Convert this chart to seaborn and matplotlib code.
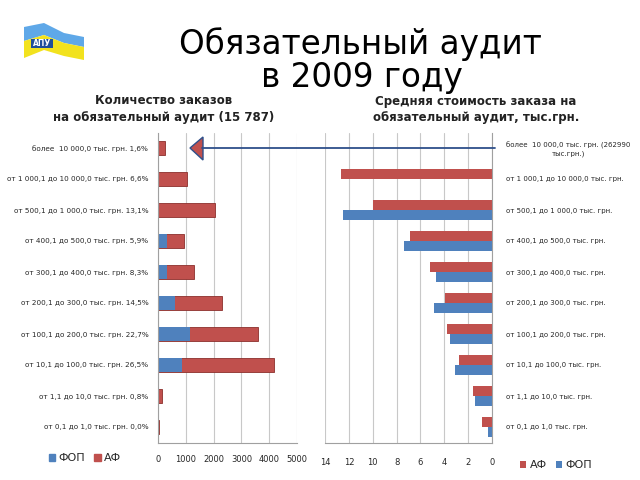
import matplotlib
matplotlib.use("Agg")
import matplotlib.pyplot as plt
import seaborn as sns
import pandas as pd
from matplotlib.patches import Patch, Polygon, Rectangle
from matplotlib.lines import Line2D

# ---- data ----
ranges = [
    "более  10 000,0 тыс. грн.",
    "от 1 000,1 до 10 000,0 тыс. грн.",
    "от 500,1 до 1 000,0 тыс. грн.",
    "от 400,1 до 500,0 тыс. грн.",
    "от 300,1 до 400,0 тыс. грн.",
    "от 200,1 до 300,0 тыс. грн.",
    "от 100,1 до 200,0 тыс. грн.",
    "от 10,1 до 100,0 тыс. грн.",
    "от 1,1 до 10,0 тыс. грн.",
    "от 0,1 до 1,0 тыс. грн.",
]
shares = ["1,6%", "6,6%", "13,1%", "5,9%", "8,3%", "14,5%", "22,7%", "26,5%", "0,8%", "0,0%"]
count_fop = [0, 0, 0, 330, 330, 600, 1150, 870, 0, 0]
count_af = [253, 1042, 2068, 600, 980, 1690, 2430, 3310, 126, 30]
cost_af = [0, 12.7, 10.0, 6.9, 5.2, 3.9, 3.8, 2.8, 1.6, 0.8]
cost_fop = [0, 0, 12.5, 7.4, 4.7, 4.9, 3.5, 3.1, 1.4, 0.3]
right_labels = ["более  10 000,0 тыс. грн. (262990\nтыс.грн.)"] + ranges[1:]

RED = "#C0504D"
BLUE = "#4F81BD"
GRID = "#C8C8C8"

sns.set_theme(style="white")
plt.rcParams["font.family"] = ["DejaVu Sans"]

fig = plt.figure(figsize=(6.4, 4.8), dpi=100)
W, H = 640, 480


def fx(x):
    return x / W


def fy(y):
    return 1 - y / H


# ---- left chart: number of orders (stacked) ----
left_labels = [f"{r} {s}" for r, s in zip(ranges, shares)]
df_left = pd.DataFrame({
    "label": left_labels,
    "fop": count_fop,
    "total": [a + b for a, b in zip(count_fop, count_af)],
})

ax1 = fig.add_axes([fx(158), fy(442.5), fx(297 - 158), 310 / H])
sns.barplot(data=df_left, y="label", x="total", color=RED, orient="h",
            width=0.45, ax=ax1, saturation=1, edgecolor="#8C2F2C", linewidth=0.6)
sns.barplot(data=df_left, y="label", x="fop", color=BLUE, orient="h",
            width=0.45, ax=ax1, saturation=1, linewidth=0)
ax1.set_xlim(0, 5000)
ax1.set_xticks([0, 1000, 2000, 3000, 4000, 5000])
ax1.xaxis.grid(True, color=GRID, lw=0.8)
ax1.set_axisbelow(True)
ax1.set_xlabel("")
ax1.set_ylabel("")
ax1.tick_params(axis="y", length=0, pad=7, labelsize=5.2)
ax1.tick_params(axis="x", length=0, pad=9, labelsize=6)
for s in ["top", "right"]:
    ax1.spines[s].set_visible(False)
for s in ["left", "bottom"]:
    ax1.spines[s].set_color("#A0A0A0")
    ax1.spines[s].set_linewidth(0.8)

ax1.legend(handles=[Patch(color=BLUE, label="ФОП"), Patch(color=RED, label="АФ")],
           loc="center", bbox_to_anchor=(fx(85), fy(458)), bbox_transform=fig.transFigure,
           ncol=2, frameon=False, fontsize=8, handlelength=0.6, handleheight=0.6,
           handletextpad=0.3, columnspacing=0.8)

# ---- right chart: average cost (grouped) ----
df_right = pd.DataFrame({
    "label": right_labels * 2,
    "series": ["АФ"] * len(ranges) + ["ФОП"] * len(ranges),
    "value": cost_af + cost_fop,
})

ax2 = fig.add_axes([fx(325), fy(442.5), fx(492 - 325), 310 / H])
sns.barplot(data=df_right, y="label", x="value", hue="series", hue_order=["АФ", "ФОП"],
            palette={"АФ": RED, "ФОП": BLUE}, order=right_labels, orient="h",
            width=0.65, ax=ax2, saturation=1, linewidth=0)
ax2.set_xlim(14, 0)
ax2.set_xticks([14, 12, 10, 8, 6, 4, 2, 0])
ax2.xaxis.grid(True, color=GRID, lw=0.8)
ax2.set_axisbelow(True)
ax2.set_xlabel("")
ax2.set_ylabel("")
ax2.yaxis.tick_right()
ax2.tick_params(axis="y", length=0, pad=10, labelsize=5.0)
ax2.tick_params(axis="x", length=0, pad=11, labelsize=6)
for t in ax2.get_yticklabels():
    t.set_multialignment("center")
for s in ["top", "left"]:
    ax2.spines[s].set_visible(False)
for s in ["right", "bottom"]:
    ax2.spines[s].set_color("#A0A0A0")
    ax2.spines[s].set_linewidth(0.8)

sns.move_legend(ax2, "center", bbox_to_anchor=(fx(556), fy(465)),
                bbox_transform=fig.transFigure, ncol=2, title=None, frameon=False,
                fontsize=8, handlelength=0.6, handleheight=0.6,
                handletextpad=0.3, columnspacing=0.8)

# ---- titles ----
fig.text(fx(360), fy(44), "Обязательный аудит", ha="center", va="center",
         fontsize=23.5, color="black")
fig.text(fx(362), fy(78), "в 2009 году", ha="center", va="center",
         fontsize=23.5, color="black")
fig.text(fx(164), fy(109), "Количество заказов\nна обязательный аудит (15 787)",
         ha="center", va="center", fontsize=8.5, fontweight="bold", color="#222222",
         linespacing=1.3)
fig.text(fx(476), fy(109), "Средняя стоимость заказа на\nобязательный аудит, тыс.грн.",
         ha="center", va="center", fontsize=8.5, fontweight="bold", color="#222222",
         linespacing=1.3)

# ---- arrow linking the > 10 000 row ----
fig.add_artist(Line2D([fx(202), fx(495)], [fy(148), fy(148)], color="#2E4F8A", lw=1.3))
fig.add_artist(Polygon([[fx(190), fy(148)], [fx(203), fy(137)], [fx(203), fy(160)]],
                       closed=True, facecolor=RED, edgecolor="#2E4F8A", lw=1))

# ---- logo ----
fig.add_artist(Polygon([[fx(24), fy(27)], [fx(44), fy(23)], [fx(64), fy(33)], [fx(84), fy(37)],
                        [fx(84), fy(47)], [fx(64), fy(43)], [fx(44), fy(35)], [fx(24), fy(41)]],
                       closed=True, facecolor="#5FA8E8", edgecolor="none"))
fig.add_artist(Polygon([[fx(24), fy(41)], [fx(44), fy(35)], [fx(64), fy(43)], [fx(84), fy(47)],
                        [fx(84), fy(60)], [fx(64), fy(56)], [fx(44), fy(50)], [fx(24), fy(58)]],
                       closed=True, facecolor="#F2E21E", edgecolor="none"))
fig.add_artist(Rectangle((fx(31), fy(48)), fx(22), 9 / H, facecolor="#1F4E9A", edgecolor="none"))
fig.text(fx(42), fy(43.5), "АПУ", ha="center", va="center", fontsize=5.5,
         fontweight="bold", color="white")

fig.savefig("out.png", dpi=100, facecolor="white")
